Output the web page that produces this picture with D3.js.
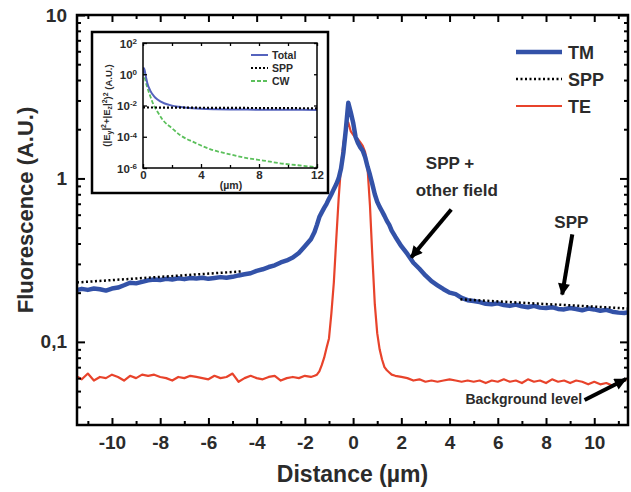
<!DOCTYPE html>
<html><head><meta charset="utf-8">
<script src="https://cdn.jsdelivr.net/npm/d3@7"></script>
<style>
html,body{margin:0;padding:0;background:#fff;}
svg{display:block;font-family:"Liberation Sans",Arial,sans-serif;font-weight:bold;}
</style></head>
<body><svg id="c" width="631" height="492"></svg>
<script>
// ---------------- data ----------------
const distance = [
 -11.5,-11.25,-11,-10.75,-10.5,-10.25,-10,-9.75,-9.5,-9.25,-9,-8.75,-8.5,-8.25,-8,-7.75,-7.5,-7.25,-7,-6.75,
 -6.5,-6.25,-6,-5.75,-5.5,-5.25,-5,-4.75,-4.5,-4.25,-4,-3.75,-3.5,-3.25,-3,-2.75,-2.5,-2.25,-2,-1.75,
 -1.6,-1.5,-1.4,-1.3,-1.2,-1.1,-1.0,-0.9,-0.8,-0.7,-0.6,-0.5,-0.4,-0.3,-0.2,-0.1,0,0.1,0.2,0.3,0.4,0.5,
 0.6,0.7,0.8,0.9,1.0,1.1,1.2,1.3,1.4,1.5,1.6,
 1.75,2,2.25,2.5,2.75,3,3.25,3.5,3.75,4,4.25,4.5,4.75,5,5.25,5.5,5.75,6,6.25,6.5,6.75,7,7.25,7.5,7.75,8,
 8.25,8.5,8.75,9,9.25,9.5,9.75,10,10.25,10.5,10.75,11,11.25,11.4];
const tm = [
 0.207,0.211,0.208,0.212,0.210,0.206,0.212,0.215,0.222,0.230,0.228,0.233,0.238,0.241,0.239,0.243,0.241,0.245,0.242,0.246,
 0.244,0.247,0.243,0.246,0.249,0.247,0.250,0.255,0.259,0.263,0.272,0.278,0.287,0.294,0.306,0.315,0.328,0.350,0.385,0.425,
 0.47,0.52,0.58,0.62,0.66,0.70,0.75,0.80,0.86,0.92,1.0,1.15,1.45,2.0,2.9,2.55,2.2,1.8,1.65,1.55,1.48,1.35,
 1.18,1.05,0.92,0.80,0.72,0.67,0.63,0.59,0.55,0.52,0.48,
 0.44,0.385,0.345,0.305,0.28,0.255,0.235,0.222,0.21,0.200,0.196,0.186,0.180,0.178,0.175,0.171,0.170,0.172,0.168,0.166,0.169,0.165,0.163,0.166,0.162,0.161,
 0.163,0.159,0.158,0.161,0.159,0.156,0.160,0.158,0.155,0.157,0.153,0.151,0.150,0.152];
const te = [
 0.062,0.059,0.064,0.058,0.061,0.060,0.063,0.061,0.058,0.062,0.060,0.063,0.062,0.063,0.061,0.060,0.058,0.061,0.060,0.062,
 0.061,0.060,0.059,0.062,0.060,0.061,0.064,0.057,0.060,0.062,0.060,0.059,0.061,0.062,0.058,0.060,0.061,0.060,0.062,0.061,
 0.062,0.063,0.066,0.072,0.080,0.092,0.105,0.15,0.23,0.42,0.75,1.2,1.65,2.0,2.2,1.95,1.85,1.78,1.74,1.66,1.58,1.45,
 1.15,0.68,0.33,0.17,0.113,0.090,0.078,0.070,0.067,0.065,0.063,
 0.062,0.061,0.060,0.058,0.059,0.057,0.058,0.057,0.058,0.059,0.058,0.057,0.058,0.057,0.058,0.056,0.058,0.057,0.059,0.057,0.058,0.056,0.059,0.057,0.058,0.056,
 0.059,0.057,0.058,0.056,0.058,0.057,0.055,0.057,0.055,0.056,0.054,0.057,0.058,0.060];
const sppLeft = [[-11.45,0.231],[-4.6,0.270]];
const sppRight = [[4.45,0.182],[11.4,0.160]];

const xMajorTicks = [-10,-8,-6,-4,-2,0,2,4,6,8,10];
const xMinorTicks = [-11,-9,-7,-5,-3,-1,1,3,5,7,9,11];
const yMajorTicks = [0.1,1,10];
const yTickLabels = ["0,1","1","10"];
const yMinorTicks = [0.04,0.05,0.06,0.07,0.08,0.09,0.2,0.3,0.4,0.5,0.6,0.7,0.8,0.9,2,3,4,5,6,7,8,9];

// inset data
const insetTotalX = [0,0.05,0.1,0.2,0.3,0.5,0.75,1,1.5,2,2.5,3,4,5,6,8,10,12];
const insetTotal  = [1.2,2.5,2.0,0.7,0.27,0.09,0.04,0.024,0.0135,0.0098,0.0082,0.0072,0.0062,0.0058,0.0056,0.0054,0.0053,0.0052];
const insetCWX = [0,0.1,0.28,0.5,0.75,1,1.38,2,2.55,3.5,4.83,6,7.17,8.3,9.45,10.7,12];
const insetCW  = [1.5,0.7,0.16,0.04,0.01,0.004,0.00115,0.00035,0.00013,0.000045,0.000014,0.0000075,0.0000043,0.000003,0.000002,0.0000015,0.0000011];
const insetSPP = [[0,0.0075],[12,0.0066]];
const insetXTicks = [0,4,8,12];
const insetXMinor = [2,6,10];
const insetYTicks = [1e2,1e0,1e-2,1e-4,1e-6];
const insetYExp = ["2","0","-2","-4","-6"];

// ---------------- drawing ----------------
const svg = d3.select("#c");
const TXT = "#2b2b2b";
const FF = "Liberation Sans,Arial,sans-serif";
const L=77,R=628,T=15,B=425;
const x = d3.scaleLinear().domain([-11.45,11.4]).range([L,R]);
const y = d3.scaleLog().domain([0.031,10]).range([B,T]);

const defs = svg.append("defs");
defs.append("clipPath").attr("id","pc").append("rect").attr("x",L).attr("y",T).attr("width",R-L).attr("height",B-T);
defs.append("marker").attr("id","ah").attr("viewBox","0 0 10 10").attr("refX",9).attr("refY",5)
  .attr("markerWidth",14).attr("markerHeight",12).attr("markerUnits","userSpaceOnUse").attr("orient","auto")
  .append("path").attr("d","M0,0 L10,5 L0,10 z").attr("fill","#000");

const plot = svg.append("g").attr("clip-path","url(#pc)");
const line = d3.line().x(d=>x(d[0])).y(d=>y(d[1]));
const tmPts = distance.map((d,i)=>[d,tm[i]]);
const tePts = distance.map((d,i)=>[d,te[i]]);
plot.append("path").attr("d",line(tePts)).attr("fill","none").attr("stroke","#e8432b").attr("stroke-width",2.2).attr("stroke-linejoin","round");
plot.append("path").attr("d",line(tmPts)).attr("fill","none").attr("stroke","#3352a8").attr("stroke-width",4.5).attr("stroke-linejoin","round");
[sppLeft,sppRight].forEach(s=>plot.append("path").attr("d",line(s)).attr("fill","none").attr("stroke","#000").attr("stroke-width",2.5).attr("stroke-dasharray","2,2.5"));

// axes
function axisG(axis, tr){ const g=svg.append("g").attr("transform",tr).call(axis); g.select(".domain").remove(); g.selectAll("line").attr("stroke","#000").attr("stroke-width",2); return g; }
const fmtNone = ()=>"";
axisG(d3.axisBottom(x).tickValues(xMajorTicks).tickSize(-7).tickPadding(11).tickFormat(d=>String(d)), `translate(0,${B})`)
  .selectAll("text").attr("font-size",19).attr("fill",TXT).attr("font-family",FF).attr("font-weight","bold");
axisG(d3.axisBottom(x).tickValues(xMinorTicks).tickSize(-4).tickFormat(fmtNone), `translate(0,${B})`);
axisG(d3.axisTop(x).tickValues(xMajorTicks).tickSize(-7).tickFormat(fmtNone), `translate(0,${T})`);
axisG(d3.axisTop(x).tickValues(xMinorTicks).tickSize(-4).tickFormat(fmtNone), `translate(0,${T})`);
axisG(d3.axisLeft(y).tickValues(yMajorTicks).tickSize(-8).tickPadding(10).tickFormat((d,i)=>yTickLabels[i]), `translate(${L},0)`)
  .selectAll("text").attr("font-size",19).attr("fill",TXT).attr("font-family",FF).attr("font-weight","bold");
axisG(d3.axisLeft(y).tickValues(yMinorTicks).tickSize(-4).tickFormat(fmtNone), `translate(${L},0)`);
axisG(d3.axisRight(y).tickValues(yMajorTicks).tickSize(-8).tickFormat(fmtNone), `translate(${R},0)`);
axisG(d3.axisRight(y).tickValues(yMinorTicks).tickSize(-4).tickFormat(fmtNone), `translate(${R},0)`);
svg.append("rect").attr("x",L).attr("y",T).attr("width",R-L).attr("height",B-T).attr("fill","none").attr("stroke","#000").attr("stroke-width",2.5);

svg.append("text").attr("x",(L+R)/2).attr("y",482).attr("text-anchor","middle").attr("font-size",23).attr("fill",TXT).text("Distance (µm)");
svg.append("text").attr("transform",`translate(33,${(T+B)/2-10}) rotate(-90)`).attr("text-anchor","middle").attr("font-size",22).attr("fill",TXT).text("Fluorescence (A.U.)");

// legend
const leg = [{k:"TM",c:"#3352a8",w:4.5,da:null},{k:"SPP",c:"#000",w:2.5,da:"2,2.5"},{k:"TE",c:"#e8432b",w:2.2,da:null}];
leg.forEach((d,i)=>{
  const yy = 52+i*27;
  svg.append("line").attr("x1",516).attr("x2",562).attr("y1",yy).attr("y2",yy).attr("stroke",d.c).attr("stroke-width",d.w).attr("stroke-dasharray",d.da);
  svg.append("text").attr("x",568).attr("y",yy+6.5).attr("font-size",18).attr("fill",TXT).text(d.k);
});

// annotations
const annText = [
  {t:"SPP +", x:4.02, v:1.25, fs:17, a:"middle"},
  {t:"other field", x:4.3, v:0.857, fs:17, a:"middle"},
  {t:"SPP", x:9.05, v:0.546, fs:17, a:"middle"},
  {t:"Background level", x:9.5, v:0.0445, fs:14, a:"end"}
];
annText.forEach(d=>svg.append("text").attr("x",x(d.x)).attr("y",y(d.v)+d.fs*0.36).attr("text-anchor",d.a).attr("font-size",d.fs).attr("fill",TXT).text(d.t));
const arrows = [[[4.07,0.646],[2.41,0.329]],[[9.09,0.455],[8.67,0.195]],[[9.6,0.0441],[11.3,0.059]]];
arrows.forEach(a=>svg.append("line").attr("x1",x(a[0][0])).attr("y1",y(a[0][1])).attr("x2",x(a[1][0])).attr("y2",y(a[1][1]))
  .attr("stroke","#000").attr("stroke-width",4).attr("marker-end","url(#ah)"));

// ---------------- inset ----------------
const IL=143,IR=317,IT=43,IB=168;
const ix = d3.scaleLinear().domain([0,12]).range([IL,IR]);
const iy = d3.scaleLog().domain([1e-6,1e2]).range([IB,IT]);
svg.append("rect").attr("x",92).attr("y",32).attr("width",236).attr("height",161).attr("fill","#fff").attr("stroke","#000").attr("stroke-width",2.5);
defs.append("clipPath").attr("id","ic").append("rect").attr("x",IL).attr("y",IT).attr("width",IR-IL).attr("height",IB-IT);
const ig = svg.append("g").attr("clip-path","url(#ic)");
const iline = d3.line().x(d=>ix(d[0])).y(d=>iy(d[1])).curve(d3.curveMonotoneX);
ig.append("path").attr("d",iline(insetCWX.map((d,i)=>[d,insetCW[i]]))).attr("fill","none").attr("stroke","#5cc05c").attr("stroke-width",1.8).attr("stroke-dasharray","4,2");
ig.append("path").attr("d",iline(insetTotalX.map((d,i)=>[d,insetTotal[i]]))).attr("fill","none").attr("stroke","#5563bd").attr("stroke-width",2);
ig.append("path").attr("d",iline(insetSPP)).attr("fill","none").attr("stroke","#000").attr("stroke-width",2.2).attr("stroke-dasharray","2,2");
function iaxis(axis,tr){ const g=svg.append("g").attr("transform",tr).call(axis); g.select(".domain").remove(); g.selectAll("line").attr("stroke","#000").attr("stroke-width",1.3); return g;}
iaxis(d3.axisBottom(ix).tickValues(insetXTicks).tickSize(-4).tickPadding(3).tickFormat(d=>String(d)),`translate(0,${IB})`)
  .selectAll("text").attr("font-size",11.5).attr("fill",TXT).attr("font-weight","bold").attr("font-family",FF);
iaxis(d3.axisBottom(ix).tickValues(insetXMinor).tickSize(-3).tickFormat(fmtNone),`translate(0,${IB})`);
iaxis(d3.axisTop(ix).tickValues(insetXTicks.concat(insetXMinor)).tickSize(-3).tickFormat(fmtNone),`translate(0,${IT})`);
iaxis(d3.axisRight(iy).tickValues(insetYTicks).tickSize(-3).tickFormat(fmtNone),`translate(${IR},0)`);
const yl = iaxis(d3.axisLeft(iy).tickValues(insetYTicks).tickSize(-4).tickFormat(fmtNone),`translate(${IL},0)`);
yl.selectAll(".tick").append("text").attr("x",-6).attr("dy","0.35em").attr("text-anchor","end").attr("fill",TXT)
  .attr("font-size",11.5).attr("font-weight","bold").attr("font-family",FF)
  .each(function(d,i){ const t=d3.select(this); t.append("tspan").text("10"); t.append("tspan").attr("dy","-0.45em").attr("font-size",8).text(insetYExp[i]); });
svg.append("rect").attr("x",IL).attr("y",IT).attr("width",IR-IL).attr("height",IB-IT).attr("fill","none").attr("stroke","#000").attr("stroke-width",1.5);
svg.append("text").attr("x",ix(4)+30).attr("y",189).attr("text-anchor","middle").attr("font-size",10.5).attr("fill",TXT).text("(µm)");
const ylab = svg.append("text").attr("transform",`translate(110,${(IT+IB)/2}) rotate(-90)`).attr("text-anchor","middle").attr("font-size",9.5).attr("fill",TXT);
ylab.append("tspan").text("(|E");
ylab.append("tspan").attr("dy","0.3em").attr("font-size",7).text("y");
ylab.append("tspan").attr("dy","-0.3em").text("|");
ylab.append("tspan").attr("dy","-0.4em").attr("font-size",7).text("2");
ylab.append("tspan").attr("dy","0.4em").text("+|E");
ylab.append("tspan").attr("dy","0.3em").attr("font-size",7).text("z");
ylab.append("tspan").attr("dy","-0.3em").text("|");
ylab.append("tspan").attr("dy","-0.4em").attr("font-size",7).text("2");
ylab.append("tspan").attr("dy","0.4em").text(")");
ylab.append("tspan").attr("dy","-0.4em").attr("font-size",7).text("2");
ylab.append("tspan").attr("dy","0.4em").text(" (A.U.)");
const ileg = [{k:"Total",c:"#5563bd",da:null,w:2},{k:"SPP",c:"#000",da:"2,2",w:2.2},{k:"CW",c:"#5cc05c",da:"4,2",w:1.8}];
ileg.forEach((d,i)=>{
  const yy=55+i*13;
  svg.append("line").attr("x1",251).attr("x2",268).attr("y1",yy).attr("y2",yy).attr("stroke",d.c).attr("stroke-width",d.w).attr("stroke-dasharray",d.da);
  svg.append("text").attr("x",272).attr("y",yy+3.5).attr("font-size",10.5).attr("fill",TXT).text(d.k);
});
</script></body></html>
